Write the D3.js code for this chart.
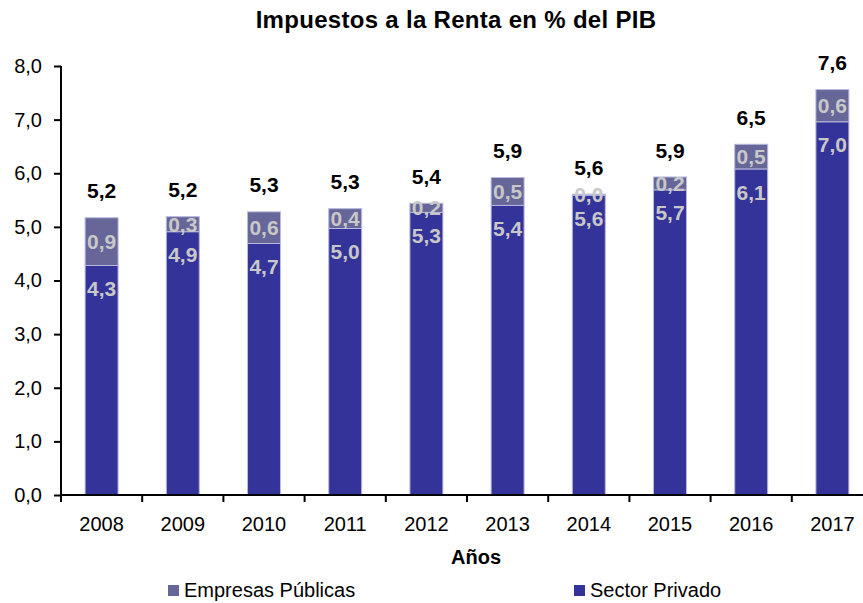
<!DOCTYPE html>
<html>
<head>
<meta charset="utf-8">
<script src="https://cdn.jsdelivr.net/npm/d3@7"></script>
<style>
  html, body { margin: 0; padding: 0; background: #fff; }
  svg { display: block; font-family: "Liberation Sans", Arial, sans-serif; }
</style>
</head>
<body>
<svg id="chart" width="863" height="603"></svg>
<script>
const years = ["2008","2009","2010","2011","2012","2013","2014","2015","2016","2017"];
const sectorPrivado = [4.28, 4.91, 4.69, 4.97, 5.27, 5.40, 5.59, 5.69, 6.08, 6.96];
const empresasPublicas = [0.89, 0.28, 0.59, 0.37, 0.17, 0.52, 0.02, 0.24, 0.46, 0.60];
const yTicks = [0, 1, 2, 3, 4, 5, 6, 7, 8];
const seriesNames = ["Empresas Públicas", "Sector Privado"];
const colors = {"Sector Privado": "#333399", "Empresas Públicas": "#666699"};

const svg = d3.select("#chart");
const mLeft = 61, mRight = 873, mTop = 66, mBottom = 495;

const x = d3.scaleBand().domain(years).range([mLeft, mRight]).paddingInner(0.594).paddingOuter(0.297);
const y = d3.scaleLinear().domain([0, 8]).range([mBottom, mTop]);
const fmt = v => d3.format(".1f")(v).replace(".", ",");

// title
svg.append("text").attr("x", 456).attr("y", 28).attr("text-anchor", "middle")
  .attr("font-size", 24).attr("font-weight", "bold").attr("fill", "#000")
  .attr("letter-spacing", 0.3)
  .text("Impuestos a la Renta en % del PIB");

// bars
const data = years.map((yr, i) => ({yr, sp: sectorPrivado[i], ep: empresasPublicas[i]}));
const g = svg.append("g");
g.selectAll("rect.sp").data(data).join("rect").attr("class", "sp")
  .attr("x", d => x(d.yr)).attr("width", x.bandwidth())
  .attr("y", d => y(d.sp)).attr("height", d => y(0) - y(d.sp))
  .attr("fill", colors["Sector Privado"]).attr("stroke", "#b8b8e0").attr("stroke-width", 1);
g.selectAll("rect.ep").data(data).join("rect").attr("class", "ep")
  .attr("x", d => x(d.yr)).attr("width", x.bandwidth())
  .attr("y", d => y(d.sp + d.ep)).attr("height", d => y(d.sp) - y(d.sp + d.ep))
  .attr("fill", colors["Empresas Públicas"]).attr("stroke", "#b8b8e0").attr("stroke-width", 1);

// labels
const cx = d => x(d.yr) + x.bandwidth() / 2;
g.selectAll("text.sp").data(data).join("text").attr("class", "sp")
  .attr("x", cx).attr("y", d => y(d.sp) + 23).attr("dy", "0.36em")
  .attr("text-anchor", "middle").attr("font-size", 21).attr("font-weight", "bold")
  .attr("fill", "#c8c8c8").text(d => fmt(d.sp));
g.selectAll("text.ep").data(data).join("text").attr("class", "ep")
  .attr("x", cx).attr("y", d => (y(d.sp) + y(d.sp + d.ep)) / 2).attr("dy", "0.36em")
  .attr("text-anchor", "middle").attr("font-size", 21).attr("font-weight", "bold")
  .attr("fill", "#c8c8c8").text(d => fmt(d.ep));
g.selectAll("text.tot").data(data).join("text").attr("class", "tot")
  .attr("x", cx).attr("y", d => y(d.sp + d.ep) - 27).attr("dy", "0.36em")
  .attr("text-anchor", "middle").attr("font-size", 21).attr("font-weight", "bold")
  .attr("fill", "#000").text(d => fmt(d.sp + d.ep));

// y axis
const yAxis = svg.append("g").attr("transform", `translate(${mLeft},0)`)
  .call(d3.axisLeft(y).tickValues(yTicks).tickFormat(fmt).tickSize(7).tickPadding(12));
yAxis.select(".domain").attr("stroke", "#000").attr("stroke-width", 2).attr("d", `M0,${mBottom}V${mTop}`);
yAxis.selectAll(".tick line").attr("stroke", "#000").attr("stroke-width", 2);
yAxis.selectAll(".tick text").attr("font-size", 20).attr("fill", "#000")
  .attr("font-family", "Liberation Sans, Arial, sans-serif");

// x axis
const xAxis = svg.append("g").attr("transform", `translate(0,${mBottom})`)
  .call(d3.axisBottom(x).tickSize(0).tickPadding(22));
xAxis.select(".domain").attr("stroke", "#000").attr("stroke-width", 2).attr("d", `M${mLeft},0H${mRight}`);
xAxis.selectAll(".tick text").attr("font-size", 20).attr("fill", "#000")
  .attr("font-family", "Liberation Sans, Arial, sans-serif");
const gap = (x.step() - x.bandwidth()) / 2;
xAxis.selectAll("line.bt").data(years).join("line").attr("class", "bt")
  .attr("x1", d => x(d) - gap).attr("x2", d => x(d) - gap)
  .attr("y1", 0).attr("y2", 7).attr("stroke", "#000").attr("stroke-width", 2);

svg.append("text").attr("x", 476).attr("y", 564).attr("text-anchor", "middle")
  .attr("font-size", 20).attr("font-weight", "bold").attr("fill", "#000").text("Años");

// legend
const legendX = [168, 574];
const lg = svg.append("g");
seriesNames.forEach((name, i) => {
  lg.append("rect").attr("x", legendX[i]).attr("y", 585).attr("width", 11).attr("height", 11)
    .attr("fill", colors[name]);
  lg.append("text").attr("x", legendX[i] + 16).attr("y", 597).attr("font-size", 20)
    .attr("fill", "#000").text(name);
});
</script>
</body>
</html>
